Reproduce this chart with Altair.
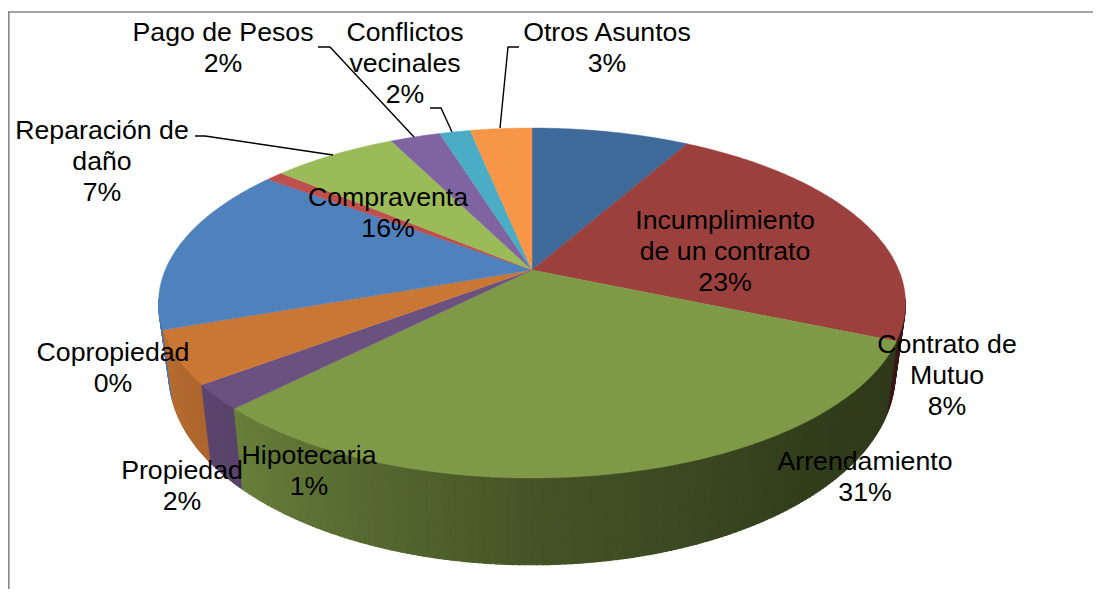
import math
import altair as alt

# ---- values ----
slice_names = ["Contrato de Mutuo", "Incumplimiento de un contrato", "Arrendamiento", "Hipotecaria",
               "Propiedad", "Copropiedad", "Compraventa", "Reparacion de dano", "Pago de Pesos",
               "Conflictos vecinales", "Otros Asuntos"]
slice_shares = [8.2, 23.2, 31.0, 2.3, 4.9, 15.6, 0.9, 6.5, 2.6, 1.6, 3.2]
slice_colors = ["#3E6A99", "#9B403D", "#7E9A47", "#6B5180", "#CA7735", "#4F81BD",
                "#BE4F4C", "#9BBB59", "#8064A2", "#4BACC6", "#F79646"]
label_texts = ["Contrato de\nMutuo\n8%", "Incumplimiento\nde un contrato\n23%", "Arrendamiento\n31%",
               "Hipotecaria\n1%", "Propiedad\n2%", "Copropiedad\n0%", "Compraventa\n16%",
               "Reparación de\ndaño\n7%", "Pago de Pesos\n2%", "Conflictos\nvecinales\n2%", "Otros Asuntos\n3%"]

# ---- layout (page pixels) ----
OFF = 8
CX, CY, A, B, K = 532 - OFF, 270 - OFF, 366.8, 168.8, 0.1886
SHRINK_X, STRETCH_Y, DROP = 0.972, 1.09, 68.0
label_xy = [(947, 345), (725, 221), (865, 462), (309, 456), (182, 471), (113, 353), (388, 198),
            (102, 131), (223, 33), (405, 33), (607, 33)]
leaders = [[(195, 136), (205, 136), (333, 155)], [(318, 47), (330, 47), (414, 137)],
           [(430, 108), (441, 108), (452, 132)], [(519, 47), (508, 47), (500, 128)]]


def rim(theta, lower=False):
    u, v = math.sin(theta), math.cos(theta)
    d = 1 + K * v
    x, y = A * u / d, -B * v / d
    if lower:
        return (CX + SHRINK_X * x, CY + DROP + STRETCH_Y * y)
    return (CX + x, CY + y)


def wall_factor(deg):
    stops = [(90, .36), (140, .40), (180, .55), (225, .83), (262, .95), (360, .95)]
    for (a0, m0), (a1, m1) in zip(stops, stops[1:]):
        if a0 <= deg <= a1:
            return m0 + (m1 - m0) * (deg - a0) / (a1 - a0)
    return .36


def shade(hexcol, m):
    r, g, b = (int(hexcol[i:i + 2], 16) for i in (1, 3, 5))
    return "#%02x%02x%02x" % (int(r * m), int(g * m), int(b * m))


def feature(ring, color, sw):
    ring = [list(p) for p in ring]
    ring.append(ring[0])
    return {"type": "Feature", "properties": {"c": color, "sw": sw},
            "geometry": {"type": "Polygon", "coordinates": [ring]}}


walls, tops, start = [], [], 0.0
for share, col in zip(slice_shares, slice_colors):
    end = start + share * 3.6
    n = max(2, int((end - start) / 0.75))
    degs = [start + (end - start) * i / n for i in range(n + 1)]
    tops.append(feature([(CX, CY)] + [rim(math.radians(d)) for d in degs], col, 0.4))
    for d0, d1 in zip(degs, degs[1:]):
        t0, t1 = math.radians(d0), math.radians(d1)
        mid = (d0 + d1) / 2
        if math.cos(math.radians(mid)) < -0.17:
            walls.append((math.cos(math.radians(mid)),
                          feature([rim(t0), rim(t1), rim(t1, True), rim(t0, True)],
                                  shade(col, wall_factor(mid)), 1.2)))
    start = end
walls.sort(key=lambda w: -w[0])
features = [w[1] for w in walls] + tops

pie = alt.Chart(alt.Data(values=features)).mark_geoshape().encode(
    fill=alt.Color("properties.c:N", scale=None, legend=None),
    stroke=alt.Color("properties.c:N", scale=None, legend=None),
    strokeWidth=alt.StrokeWidth("properties.sw:Q", scale=None, legend=None),
).project(type="identity", scale=1, translate=[0, 0])

lead_rows = [{"g": g, "i": i, "x": x - OFF, "y": y - OFF}
             for g, line in enumerate(leaders) for i, (x, y) in enumerate(line)]
lead = alt.Chart(alt.Data(values=lead_rows)).mark_line(color="#000000", strokeWidth=1.4).encode(
    x=alt.X("x:Q", scale=None, axis=None),
    y=alt.Y("y:Q", scale=None, axis=None),
    detail="g:N", order="i:Q",
)

label_rows = [{"t": t, "x": x - OFF, "y": y - OFF} for t, (x, y) in zip(label_texts, label_xy)]
labels = alt.Chart(alt.Data(values=label_rows)).mark_text(
    font="Liberation Sans", fontSize=26.7, lineBreak="\n", lineHeight=31,
    align="center", baseline="middle", color="#000000",
).encode(
    x=alt.X("x:Q", scale=None, axis=None),
    y=alt.Y("y:Q", scale=None, axis=None),
    text="t:N",
)

W, H = 1085, 581
frame_color = "#868686"
frame_left = alt.Chart(alt.Data(values=[{"a": 0}])).mark_rule(color=frame_color, strokeWidth=1.6).encode(
    x=alt.value(0.8), y=alt.value(3.5), y2=alt.value(H))
frame_top = alt.Chart(alt.Data(values=[{"a": 0}])).mark_rule(color=frame_color, strokeWidth=1.6).encode(
    y=alt.value(4), x=alt.value(0), x2=alt.value(W))

chart = alt.layer(frame_left, frame_top, pie, lead, labels).properties(
    width=W, height=H, padding=0, background="white", autosize=alt.AutoSizeParams(type="none"),
).configure_view(stroke=None)

chart.save("out.html", embed_options={"renderer": "svg", "actions": False})
